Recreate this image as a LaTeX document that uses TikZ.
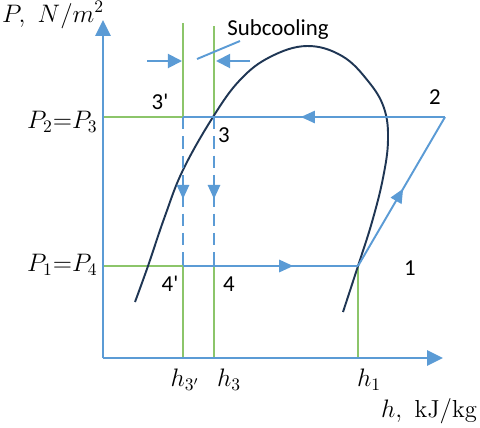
\documentclass[tikz,border=0pt]{standalone}
\usepackage{fontspec}
\usepackage{amsmath}
\newfontfamily\carlito{Carlito}
\usetikzlibrary{arrows.meta,decorations.markings}
\definecolor{cycleblue}{HTML}{5B9BD5}
\definecolor{guidegreen}{HTML}{8CC56A}
\definecolor{domenavy}{HTML}{1F3654}

\tikzset{
    axis/.style={cycleblue, line width=1.5pt, -{Triangle[length=9pt,width=8.5pt]}},
    process/.style={cycleblue, line width=1.1pt},
    throttle/.style={cycleblue, line width=1.1pt, dash pattern=on 7pt off 4pt},
    guide/.style={guidegreen, line width=0.7pt},
    dome/.style={domenavy, line width=1.1pt},
    pointer/.style={cycleblue, line width=1.1pt, -{Triangle[length=8pt,width=8pt]}},
    midarrow/.style={postaction={decorate}, decoration={markings,
        mark=at position #1 with {\arrow{Triangle[length=8pt,width=7pt]}}}},
    statelabel/.style={font=\carlito\fontsize{13}{15}\selectfont, inner sep=0pt},
    mathlabel/.style={font=\fontsize{14}{16}\selectfont, inner sep=0pt},
}

\begin{document}
\begin{tikzpicture}[x=0.02cm, y=-0.02cm]
                    \useasboundingbox (0,0) rectangle (480,427);

                    \coordinate (o) at (103,358);
                    \coordinate (ptop) at (103,20);
                    \coordinate (hend) at (443,358);
                    \coordinate (p2) at (103,117);
                    \coordinate (p1) at (103,266);
                    \coordinate (s1) at (358,266);
                    \coordinate (s2) at (445,117);
                    \coordinate (s3) at (214,117);
                    \coordinate (s3p) at (183,117);
                    \coordinate (s4) at (214,266);
                    \coordinate (s4p) at (183,266);
                    \coordinate (g3p) at (183,23);
                    \coordinate (g3) at (214,26);
                    \coordinate (b3p) at (183,358);
                    \coordinate (b3) at (214,358);
                    \coordinate (b1) at (358,358);
                    \coordinate (g4) at (218,266);

                    \draw [guide] (g3p) -- (s3p);
                    \draw [guide] (s4p) -- (b3p);
                    \draw [guide] (g3) -- (s3);
                    \draw [guide] (s4) -- (b3);
                    \draw [guide] (s1) -- (b1);
                    \draw [guide] (p2) -- (s3p);
                    \draw [guide] (p1) -- (g4);

                    \draw [dome] plot [smooth, tension=0.65] coordinates {(135,302) (148,266) (165,216) (183,170) (213,117) (240,80) (270,57) (307,46) (342,56) (368,81) (384,108) (388,140) (383,178) (372,222) (358,266) (343,312)};

                    \draw [process, midarrow=0.55] (s2) -- (s3p);
                    \draw [process, midarrow=0.63] (s4p) -- (s1);
                    \draw [process, midarrow=0.52] (s1) -- (s2);
                    \draw [throttle, midarrow=0.55] (s3p) -- (s4p);
                    \draw [throttle, midarrow=0.55] (s3) -- (s4);

                    \draw [axis] (o) -- (ptop);
                    \draw [axis] (o) -- (hend);

                    \coordinate (la) at (147,61);
                    \coordinate (lb) at (182,61);
                    \coordinate (ra) at (250,61);
                    \coordinate (rb) at (216,61);
                    \draw [pointer] (la) -- (lb);
                    \draw [pointer] (ra) -- (rb);
                    \node [statelabel, anchor=base west] (sub) at (227,35) {Subcooling};
                    \coordinate (lead) at (197,59);
                    \draw [cycleblue, line width=1.1pt] (lead) -- (240,41);

                    \node [mathlabel] (ylab) at (53,15) {$P,\ N/m^2$};
                    \node [mathlabel] (xlab) at (429,411) {$h,\ \mathrm{kJ/kg}$};
                    \node [mathlabel, anchor=east] (lp2) at (98,122) {$P_2{=}P_3$};
                    \node [mathlabel, anchor=east] (lp1) at (98,265) {$P_1{=}P_4$};
                    \node [mathlabel] (lh3p) at (185,380) {$h_{3'}$};
                    \node [mathlabel] (lh3) at (229,380) {$h_3$};
                    \node [mathlabel] (lh1) at (369,380) {$h_1$};

                    \node [statelabel] (l3p) at (160,102) {3'};
                    \node [statelabel] (l3) at (224,135) {3};
                    \node [statelabel] (l4p) at (170,284) {4'};
                    \node [statelabel] (l4) at (229,284) {4};
                    \node [statelabel] (l2) at (435,97) {2};
                    \node [statelabel] (l1) at (410,268) {1};
\end{tikzpicture}
\end{document}
